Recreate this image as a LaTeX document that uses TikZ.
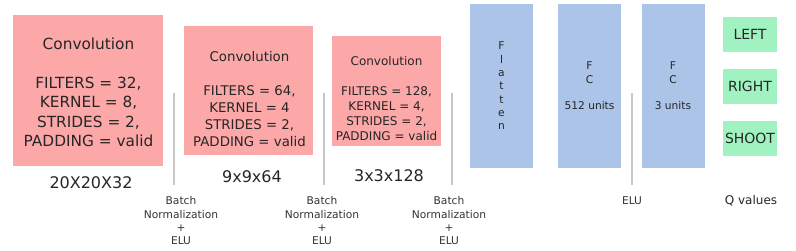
\documentclass[tikz,border=0pt]{standalone}
\usepackage{fontspec}
\setmainfont{DejaVu Sans}
\usetikzlibrary{positioning}

\definecolor{convpink}{RGB}{252,168,168}
\definecolor{densblue}{RGB}{173,196,233}
\definecolor{qgreen}{RGB}{160,243,192}
\definecolor{seppgray}{RGB}{200,200,200}

\begin{document}
\begin{tikzpicture}[
  x=0.75pt, y=-0.75pt,
  conv/.style  = {fill=convpink, inner sep=0pt},
  dens/.style  = {fill=densblue, inner sep=0pt, minimum width=47.25pt,
                  minimum height=123pt, align=center, text=black!85,
                  font=\fontsize{8}{10}\selectfont},
  qbox/.style  = {fill=qgreen, inner sep=0pt, minimum width=40.5pt,
                  minimum height=26.25pt, text=black!85,
                  font=\fontsize{10.5}{12}\selectfont},
  ctxt/.style  = {align=center, inner sep=0pt, text=black!85},
  shp/.style   = {inner sep=0pt, text=black!85, font=\fontsize{12}{14}\selectfont},
  note/.style  = {align=center, inner sep=0pt, text=black!80,
                  font=\fontsize{8}{10}\selectfont},
  sepl/.style  = {seppgray, line width=0.8pt},
]
\useasboundingbox (0,0) rectangle (796,250);

%% ---- convolution blocks --------------------------------------------------
\node[conv, minimum width=112.5pt, minimum height=113.25pt] (conv1) at (88,90.5) {};
\node[ctxt, font=\fontsize{11.5}{14.5}\selectfont] (conv1txt) at (88.5,92.5)
  {Convolution\\[14.5pt] FILTERS = 32,\\ KERNEL = 8,\\ STRIDES = 2,\\ PADDING = valid};
\node[shp] (out1) at (91,183) {20X20X32};

\node[conv, minimum width=96.75pt, minimum height=96.75pt] (conv2) at (248.5,90.5) {};
\node[ctxt, font=\fontsize{10}{12.75}\selectfont] (conv2txt) at (249.5,99.5)
  {Convolution\\[12.75pt] FILTERS = 64,\\ KERNEL = 4\\ STRIDES = 2,\\ PADDING = valid};
\node[shp] (out2) at (252,177) {9x9x64};

\node[conv, minimum width=81.75pt, minimum height=82.5pt] (conv3) at (386.5,91) {};
\node[ctxt, font=\fontsize{9}{11.25}\selectfont] (conv3txt) at (386.5,98.5)
  {Convolution\\[11.25pt] FILTERS = 128,\\ KERNEL = 4,\\ STRIDES = 2,\\ PADDING = valid};
\node[shp] (out3) at (389,176) {3x3x128};

%% ---- separators ----------------------------------------------------------
\foreach \n/\xl/\xt in {1/174/181, 2/324/322, 3/452/449} {
  \coordinate (sep\n top) at (\xl,93);
  \coordinate (sep\n bot) at (\xl,185);
  \draw[sepl] (sep\n top) -- (sep\n bot);
  \node[note] (bn\n) at (\xt,221) {Batch\\ Normalization\\ +\\ ELU};
}

%% ---- dense part ----------------------------------------------------------
\node[dens] (flat) at (501.5,86) {F\\ l\\ a\\ t\\ t\\ e\\ n};
\node[dens] (fc1)  at (589.5,86) {F\\ C\\[10pt] 512 units};
\node[dens] (fc2)  at (673,86)   {F\\ C\\[10pt] 3 units};

\coordinate (sep4top) at (632,93);
\coordinate (sep4bot) at (632,185);
\draw[sepl] (sep4top) -- (sep4bot);
\node[note] (elu) at (632,201) {ELU};

%% ---- outputs -------------------------------------------------------------
\node[qbox] (left)  at (750,34.5)  {LEFT};
\node[qbox] (right) at (750,86.5)  {RIGHT};
\node[qbox] (shoot) at (750,138.5) {SHOOT};
\node[inner sep=0pt, text=black!85, font=\fontsize{9}{11}\selectfont] (qval)
  at (751,201) {Q values};

\end{tikzpicture}
\end{document}
